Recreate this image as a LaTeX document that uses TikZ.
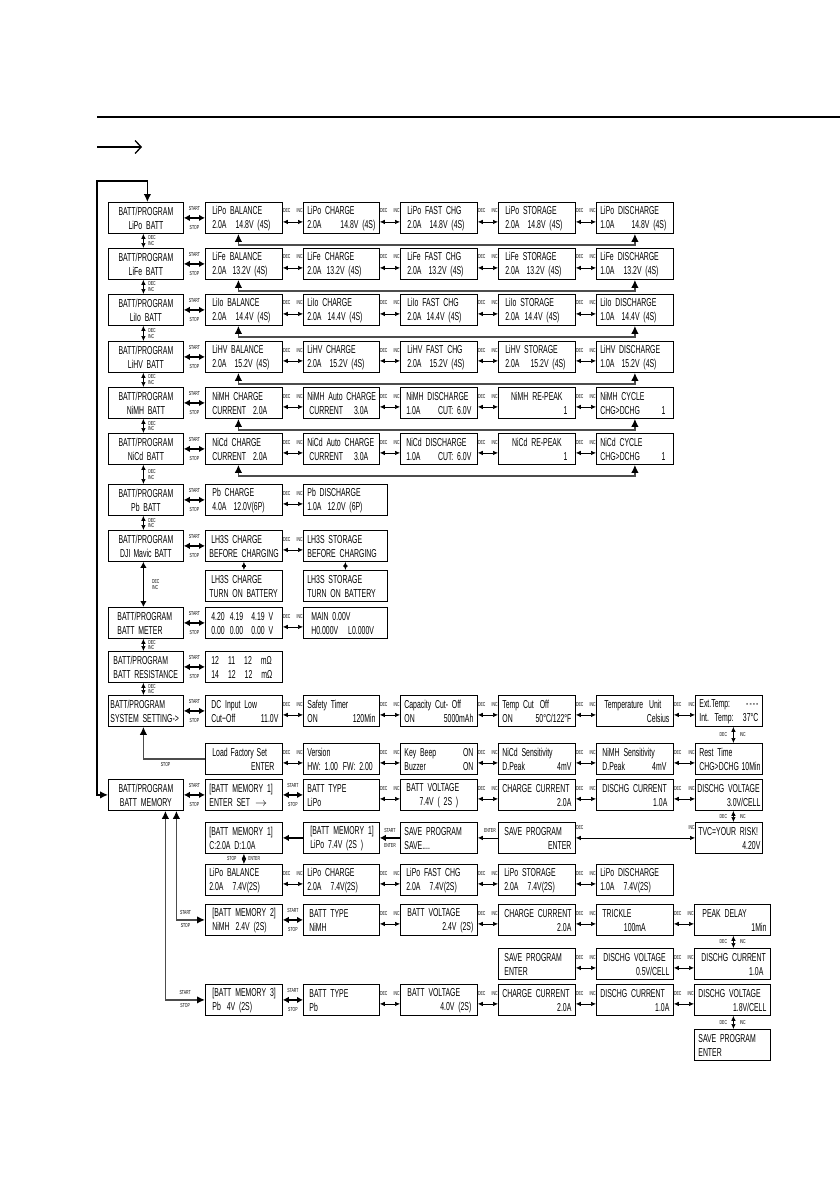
\documentclass[tikz,border=0pt]{standalone}
\usepackage{fontspec}
\setmainfont{Liberation Sans}[FakeStretch=0.6]
\usetikzlibrary{arrows.meta}

\newcommand\two[2]{\vbox{\baselineskip=14pt
  \hbox to\linewidth{\vrule height 10pt width 0pt #1\hfil}%
  \hbox to\linewidth{\vrule depth 1pt width 0pt #2\hfil}}}

\begin{document}
\begin{tikzpicture}[x=1pt, y=-1pt]
\tikzstyle{box} = [draw, line width=0.8pt, anchor=north west, inner xsep=4pt, inner ysep=0pt, minimum height=31pt, font=\fontsize{11.5}{14}\selectfont]
\tikzstyle{lcd} = [box, text width=69pt]
\tikzstyle{lcdm} = [box, text width=68pt]
\tikzstyle{wide} = [box, text width=76pt]
\tikzstyle{side} = [box, inner xsep=2pt, text width=71pt]
\tikzstyle{slim} = [box, inner xsep=2pt, text width=63pt]
\tikzstyle{tag} = [font=\fontsize{5.8}{6}\selectfont, inner sep=0pt]
\tikzstyle{dbl} = [line width=0.7pt, >={Latex[length=5pt,width=4.5pt]}, <->]
\tikzstyle{bold} = [line width=1.5pt, >={Latex[length=6pt,width=6.5pt]}, <->]
\tikzstyle{feed} = [line width=1.6pt, draw=black!70, >={Latex[length=8pt,width=7.5pt,color=black]}]
\tikzstyle{back} = [feed, <->]
\tikzstyle{decinc} = [dbl, edge node={node[tag, pos=0, anchor=south west, yshift=8.5pt] {DEC} node[tag, pos=1, anchor=south east, yshift=8.5pt] {INC}}]
\tikzstyle{startstop} = [bold, edge node={node[tag, above=6.5pt] {START} node[tag, below=6.5pt] {STOP}}]
\tikzstyle{vstack} = [dbl, edge node={node[tag, anchor=south west, xshift=4.5pt, yshift=0.5pt] {DEC} node[tag, anchor=north west, xshift=4.5pt, yshift=-0.5pt] {INC}}]
\tikzstyle{bigstack} = [bold, edge node={node[tag, anchor=south west, xshift=8pt, yshift=0.5pt] {DEC} node[tag, anchor=north west, xshift=8pt, yshift=-0.5pt] {INC}}]
\tikzstyle{vside} = [dbl, edge node={node[tag, anchor=east, xshift=-6pt] {DEC} node[tag, anchor=west, xshift=6pt] {INC}}]
\tikzstyle{stopenter} = [dbl, edge node={node[tag, anchor=east, xshift=-7pt] {STOP} node[tag, anchor=west, xshift=4pt] {ENTER}}]

\useasboundingbox (0,0) rectangle (840,1192);

\draw[line width=1.8pt] (97,117) -- (840,117);
\draw[line width=1.3pt, -{Straight Barb[length=6pt,width=13pt]}] (97,147) -- (142,147);

\node[side] (lipo) at (108,202) {\two{\hfil BATT/PROGRAM}{\hfil LiPo BATT}};
\node[lcd] (lipobal) at (205,202) {\two{\hspace{3pt}LiPo BALANCE}{\hspace{3pt}2.0A\hspace{9pt}14.8V (4S)}};
\node[lcdm] (lipochg) at (303,202) {\two{LiPo CHARGE}{2.0A\hfill 14.8V (4S)}};
\node[lcd] (lipofast) at (400,202) {\two{\hspace{3pt}LiPo FAST CHG}{\hspace{3pt}2.0A\hspace{8pt}14.8V (4S)}};
\node[lcd] (lipostor) at (498,202) {\two{\hspace{3pt}LiPo STORAGE}{\hspace{3pt}2.0A\hspace{8pt}14.8V (4S)}};
\node[lcd] (lipodis) at (596,202) {\two{LiPo DISCHARGE}{1.0A\hfill 14.8V (4S)\hspace{3pt}}};

\node[side] (life) at (108,248) {\two{\hfil BATT/PROGRAM}{\hfil LiFe BATT}};
\node[lcd] (lifebal) at (205,248) {\two{\hspace{3pt}LiFe\hspace{4pt}BALANCE}{\hspace{3pt}2.0A\hspace{6pt}13.2V (4S)}};
\node[lcdm] (lifechg) at (303,248) {\two{LiFe\hspace{4pt}CHARGE}{2.0A\hspace{5pt}13.2V (4S)}};
\node[lcd] (lifefast) at (400,248) {\two{\hspace{3pt}LiFe\hspace{4pt}FAST CHG}{\hspace{3pt}2.0A\hspace{7pt}13.2V (4S)}};
\node[lcd] (lifestor) at (498,248) {\two{\hspace{3pt}LiFe\hspace{4pt}STORAGE}{\hspace{3pt}2.0A\hspace{7pt}13.2V (4S)}};
\node[lcd] (lifedis) at (596,248) {\two{LiFe\hspace{4pt}DISCHARGE}{1.0A\hspace{9pt}13.2V (4S)}};

\node[side] (liio) at (108,294) {\two{\hfil BATT/PROGRAM}{\hfil LiIo BATT}};
\node[lcd] (liiobal) at (205,294) {\two{\hspace{3pt}LiIo BALANCE}{\hspace{3pt}2.0A\hspace{9pt}14.4V (4S)}};
\node[lcdm] (liiochg) at (303,294) {\two{LiIo CHARGE}{2.0A\hspace{6pt}14.4V (4S)}};
\node[lcd] (liiofast) at (400,294) {\two{\hspace{3pt}LiIo FAST CHG}{\hspace{3pt}2.0A\hspace{5pt}14.4V (4S)}};
\node[lcd] (liiostor) at (498,294) {\two{\hspace{3pt}LiIo STORAGE}{\hspace{3pt}2.0A\hspace{5pt}14.4V (4S)}};
\node[lcd] (liiodis) at (596,294) {\two{LiIo DISCHARGE}{1.0A\hspace{7pt}14.4V (4S)}};

\node[side] (lihv) at (108,341) {\two{\hfil BATT/PROGRAM}{\hfil LiHV BATT}};
\node[lcd] (lihvbal) at (205,341) {\two{\hspace{3pt}LiHV BALANCE}{\hspace{3pt}2.0A\hspace{8pt}15.2V (4S)}};
\node[lcdm] (lihvchg) at (303,341) {\two{LiHV CHARGE}{2.0A\hspace{8pt}15.2V (4S)}};
\node[lcd] (lihvfast) at (400,341) {\two{\hspace{3pt}LiHV FAST CHG}{\hspace{3pt}2.0A\hspace{8pt}15.2V (4S)}};
\node[lcd] (lihvstor) at (498,341) {\two{\hspace{3pt}LiHV STORAGE}{\hspace{3pt}2.0A\hspace{11pt}15.2V (4S)}};
\node[lcd] (lihvdis) at (596,341) {\two{LiHV DISCHARGE}{1.0A\hspace{7pt}15.2V (4S)}};

\node[side] (nimh) at (108,387) {\two{\hfil BATT/PROGRAM}{\hfil NiMH BATT}};
\node[lcd] (nimhchg) at (205,387) {\two{\hspace{3pt}NiMH CHARGE}{\hspace{3pt}CURRENT\hspace{7pt}2.0A}};
\node[lcdm] (nimhauto) at (303,387) {\two{NiMH Auto CHARGE}{\hspace{2pt}CURRENT\hspace{11pt}3.0A}};
\node[lcd] (nimhdis) at (400,387) {\two{\hspace{2pt}NiMH DISCHARGE}{\hspace{2pt}1.0A\hfill CUT: 6.0V\hspace{2pt}}};
\node[lcd] (nimhpeak) at (498,387) {\two{\hfil NiMH RE-PEAK}{\hfill 1\hspace{4pt}}};
\node[lcd] (nimhcyc) at (596,387) {\two{NiMH CYCLE}{CHG>DCHG\hfill 1\hspace{4pt}}};

\node[side] (nicd) at (108,433) {\two{\hfil BATT/PROGRAM}{\hfil NiCd BATT}};
\node[lcd] (nicdchg) at (205,433) {\two{\hspace{3pt}NiCd CHARGE}{\hspace{3pt}CURRENT\hspace{7pt}2.0A}};
\node[lcdm] (nicdauto) at (303,433) {\two{NiCd Auto CHARGE}{\hspace{2pt}CURRENT\hspace{11pt}3.0A}};
\node[lcd] (nicddis) at (400,433) {\two{\hspace{2pt}NiCd DISCHARGE}{\hspace{2pt}1.0A\hfill CUT: 6.0V\hspace{2pt}}};
\node[lcd] (nicdpeak) at (498,433) {\two{\hfil NiCd RE-PEAK}{\hfill 1\hspace{4pt}}};
\node[lcd] (nicdcyc) at (596,433) {\two{NiCd CYCLE}{CHG>DCHG\hfill 1\hspace{4pt}}};

\node[side] (pb) at (108,484) {\two{\hfil BATT/PROGRAM}{\hfil Pb BATT}};
\node[lcd] (pbchg) at (205,484) {\two{\hspace{3pt}Pb CHARGE}{\hspace{3pt}4.0A\hspace{7pt}12.0V(6P)}};
\node[wide] (pbdis) at (303,484) {\two{Pb DISCHARGE}{1.0A\hspace{6pt}12.0V (6P)}};

\node[side] (dji) at (108,530) {\two{\hfil BATT/PROGRAM}{\hfil DJI\hspace{3pt}Mavic\hspace{3pt}BATT}};
\node[lcd] (lhchg) at (205,530) {\two{\hspace{2pt}LH3S CHARGE}{BEFORE CHARGING}};
\node[wide] (lhstor) at (303,530) {\two{LH3S STORAGE}{BEFORE CHARGING}};
\node[lcd] (lhchgon) at (205,570) {\two{\hspace{2pt}LH3S CHARGE}{TURN ON BATTERY}};
\node[wide] (lhstoron) at (303,570) {\two{LH3S STORAGE}{TURN ON BATTERY}};

\node[side] (meter) at (108,607) {\two{\hspace{7pt}BATT/PROGRAM}{\hspace{7pt}BATT METER}};
\node[lcd] (cells) at (205,607) {\two{\hspace{2pt}4.20\hspace{5pt}4.19\hspace{8pt}4.19 V}{\hspace{2pt}0.00\hspace{5pt}0.00\hspace{8pt}0.00 V}};
\node[wide] (mainv) at (303,607) {\two{\hspace{4pt}MAIN 0.00V}{\hspace{4pt}H0.000V\hspace{10pt}L0.000V}};

\node[side] (resist) at (108,651) {\two{\hspace{3pt}BATT/PROGRAM}{\hspace{3pt}BATT RESISTANCE}};
\node[lcd] (ohms) at (205,651) {\two{\hspace{2pt}12\hspace{9pt}11\hspace{9pt}12\hspace{9pt}mΩ}{\hspace{2pt}14\hspace{9pt}12\hspace{9pt}12\hspace{9pt}mΩ}};

\node[side] (sys) at (108,695) {\two{BATT/PROGRAM}{SYSTEM SETTING->}};
\node[lcd] (dcin) at (205,695) {\two{\hspace{2pt}DC Input Low}{\hspace{2pt}Cut−Off\hfill 11.0V}};
\node[lcdm] (timer) at (303,695) {\two{Safety Timer}{ON\hfill 120Min}};
\node[lcd] (capcut) at (400,695) {\two{Capacity Cut- Off}{ON\hfill 5000mAh}};
\node[lcd] (tempcut) at (498,695) {\two{Temp Cut\hspace{6pt}Off}{ON\hfill 50°C/122°F}};
\node[lcd] (tempunit) at (596,695) {\two{\hspace{4pt}Temperature\hspace{6pt}Unit}{\hfill Celsius}};
\node[slim] (exttemp) at (695,695) {\two{\hspace{2pt}Ext.Temp:\hfill -\kern1pt-\kern1pt-\kern1pt-\hspace{2pt}}{\hspace{2pt}Int. Temp:\hfill 37°C\hspace{2pt}}};

\node[lcd] (factory) at (205,743) {\two{\hspace{3pt}Load\hspace{3pt}Factory\hspace{3pt}Set}{\hfill ENTER\hspace{4pt}}};
\node[lcdm] (version) at (303,743) {\two{Version}{HW: 1.00\hspace{5pt}FW: 2.00}};
\node[lcd] (keybeep) at (400,743) {\two{Key Beep\hfill ON}{Buzzer\hfill ON}};
\node[lcd] (nicdsens) at (498,743) {\two{NiCd Sensitivity}{D.Peak\hfill 4mV}};
\node[lcd] (nimhsens) at (596,743) {\two{\hspace{2pt}NiMH\hspace{4pt}Sensitivity}{\hspace{2pt}D.Peak\hfill 4mV\hspace{3pt}}};
\node[slim] (rest) at (695,743) {\two{\hspace{2pt}Rest Time}{\hspace{2pt}CHG>DCHG\hfill 10Min}};

\node[side] (mem) at (108,779) {\two{\hfil BATT/PROGRAM}{\hfil BATT MEMORY}};
\node[lcd] (memone) at (205,779) {\two{[BATT MEMORY 1]}{ENTER SET\hspace{5pt}$\rightarrow$}};
\node[lcdm] (memtype) at (303,779) {\two{BATT TYPE}{LiPo}};
\node[lcd] (memvolt) at (400,779) {\two{\hspace{2pt}BATT\hspace{4pt}VOLTAGE}{\hfil 7.4V ( 2S )}};
\node[lcd] (memchg) at (498,779) {\two{CHARGE CURRENT}{\hfill 2.0A}};
\node[lcd] (memdis) at (596,779) {\two{\hspace{2pt}DISCHG CURRENT}{\hfill 1.0A\hspace{2pt}}};
\node[slim] (memdv) at (695,779) {\two{DISCHG VOLTAGE}{\hfill 3.0V/CELL}};

\node[lcd] (memshow) at (205,822) {\two{[BATT MEMORY 1]}{C:2.0A\hspace{4pt}D:1.0A}};
\node[lcdm] (memsaved) at (303,822) {\two{\hspace{3pt}[BATT MEMORY 1]}{\hspace{3pt}LiPo\hspace{4pt}7.4V (2S )}};
\node[lcd] (saving) at (400,822) {\two{SAVE PROGRAM}{SAVE....}};
\node[lcd] (saveask) at (498,822) {\two{\hspace{2pt}SAVE PROGRAM}{\hfill ENTER}};
\node[slim] (tvc) at (695,822) {\two{\hspace{1pt}TVC=YOUR RISK!}{\hfill 4.20V}};

\node[lcd] (twobal) at (205,864) {\two{LiPo BALANCE}{2.0A\hspace{9pt}7.4V(2S)}};
\node[lcdm] (twochg) at (303,864) {\two{LiPo CHARGE}{2.0A\hspace{9pt}7.4V(2S)}};
\node[lcd] (twofast) at (400,864) {\two{\hspace{2pt}LiPo FAST CHG}{\hspace{2pt}2.0A\hspace{9pt}7.4V(2S)}};
\node[lcd] (twostor) at (498,864) {\two{\hspace{2pt}LiPo STORAGE}{\hspace{2pt}2.0A\hspace{9pt}7.4V(2S)}};
\node[lcd] (twodis) at (596,864) {\two{LiPo DISCHARGE}{1.0A\hspace{9pt}7.4V(2S)}};

\node[lcd] (memtwo) at (205,904) {\two{\hspace{3pt}[BATT MEMORY 2]}{\hspace{3pt}NiMH\hspace{6pt}2.4V (2S)}};
\node[lcdm] (mtwotype) at (303,904) {\two{\hspace{2pt}BATT TYPE}{\hspace{2pt}NiMH}};
\node[lcd] (mtwovolt) at (400,904) {\two{\hspace{3pt}BATT\hspace{4pt}VOLTAGE}{\hfill 2.4V (2S)}};
\node[lcd] (mtwochg) at (498,904) {\two{\hspace{2pt}CHARGE CURRENT}{\hfill 2.0A}};
\node[lcd] (trickle) at (596,904) {\two{\hspace{2pt}TRICKLE}{\hfil 100mA}};
\node[lcdm] (peak) at (694,904) {\two{\hspace{4pt}PEAK DELAY}{\hfill 1Min}};

\node[lcd] (mtwosave) at (498,948) {\two{\hspace{2pt}SAVE PROGRAM}{\hspace{2pt}ENTER}};
\node[lcd] (mtwodv) at (596,948) {\two{\hspace{3pt}DISCHG VOLTAGE}{\hfill 0.5V/CELL}};
\node[lcdm] (mtwodis) at (694,948) {\two{\hspace{3pt}DISCHG CURRENT}{\hfill 1.0A\hspace{3pt}}};

\node[lcd] (memthree) at (205,984) {\two{\hspace{3pt}[BATT MEMORY 3]}{\hspace{3pt}Pb\hspace{6pt}4V (2S)}};
\node[lcdm] (mthreetype) at (303,984) {\two{\hspace{2pt}BATT TYPE}{\hspace{2pt}Pb}};
\node[lcd] (mthreevolt) at (400,984) {\two{\hspace{3pt}BATT\hspace{4pt}VOLTAGE}{\hfill 4.0V (2S)\hspace{2pt}}};
\node[lcd] (mthreechg) at (498,984) {\two{CHARGE CURRENT}{\hfill 2.0A}};
\node[lcd] (mthreedis) at (596,984) {\two{DISCHG CURRENT}{\hfill 1.0A}};
\node[lcdm] (mthreedv) at (694,984) {\two{DISCHG VOLTAGE}{\hfill 1.8V/CELL}};
\node[lcdm] (mthreesave) at (694,1029) {\two{SAVE PROGRAM}{ENTER}};

\coordinate (corner) at (97,181);
\draw[feed, draw=black, line width=1.3pt, <->] (mem.west) -| (corner) -| ([xshift=1.5pt]lipo.north);

\draw (lipo.east) edge[startstop] (lipobal.west);
\draw ([yshift=-4pt]lipobal.east) edge[decinc] ([yshift=-4pt]lipochg.west);
\draw ([yshift=-4pt]lipochg.east) edge[decinc] ([yshift=-4pt]lipofast.west);
\draw ([yshift=-4pt]lipofast.east) edge[decinc] ([yshift=-4pt]lipostor.west);
\draw ([yshift=-4pt]lipostor.east) edge[decinc] ([yshift=-4pt]lipodis.west);
\draw[back] ([xshift=-5.5pt]lipobal.south) -- ++(0,11) -| (lipodis.south);

\draw (life.east) edge[startstop] (lifebal.west);
\draw ([yshift=-4pt]lifebal.east) edge[decinc] ([yshift=-4pt]lifechg.west);
\draw ([yshift=-4pt]lifechg.east) edge[decinc] ([yshift=-4pt]lifefast.west);
\draw ([yshift=-4pt]lifefast.east) edge[decinc] ([yshift=-4pt]lifestor.west);
\draw ([yshift=-4pt]lifestor.east) edge[decinc] ([yshift=-4pt]lifedis.west);
\draw[back] ([xshift=-5.5pt]lifebal.south) -- ++(0,11) -| (lifedis.south);

\draw (liio.east) edge[startstop] (liiobal.west);
\draw ([yshift=-4pt]liiobal.east) edge[decinc] ([yshift=-4pt]liiochg.west);
\draw ([yshift=-4pt]liiochg.east) edge[decinc] ([yshift=-4pt]liiofast.west);
\draw ([yshift=-4pt]liiofast.east) edge[decinc] ([yshift=-4pt]liiostor.west);
\draw ([yshift=-4pt]liiostor.east) edge[decinc] ([yshift=-4pt]liiodis.west);
\draw[back] ([xshift=-5.5pt]liiobal.south) -- ++(0,11) -| (liiodis.south);

\draw (lihv.east) edge[startstop] (lihvbal.west);
\draw ([yshift=-4pt]lihvbal.east) edge[decinc] ([yshift=-4pt]lihvchg.west);
\draw ([yshift=-4pt]lihvchg.east) edge[decinc] ([yshift=-4pt]lihvfast.west);
\draw ([yshift=-4pt]lihvfast.east) edge[decinc] ([yshift=-4pt]lihvstor.west);
\draw ([yshift=-4pt]lihvstor.east) edge[decinc] ([yshift=-4pt]lihvdis.west);
\draw[back] ([xshift=-5.5pt]lihvbal.south) -- ++(0,11) -| (lihvdis.south);

\draw (nimh.east) edge[startstop] (nimhchg.west);
\draw ([yshift=-4pt]nimhchg.east) edge[decinc] ([yshift=-4pt]nimhauto.west);
\draw ([yshift=-4pt]nimhauto.east) edge[decinc] ([yshift=-4pt]nimhdis.west);
\draw ([yshift=-4pt]nimhdis.east) edge[decinc] ([yshift=-4pt]nimhpeak.west);
\draw ([yshift=-4pt]nimhpeak.east) edge[decinc] ([yshift=-4pt]nimhcyc.west);
\draw[back] ([xshift=-5.5pt]nimhchg.south) -- ++(0,11) -| (nimhcyc.south);

\draw (nicd.east) edge[startstop] (nicdchg.west);
\draw ([yshift=-4pt]nicdchg.east) edge[decinc] ([yshift=-4pt]nicdauto.west);
\draw ([yshift=-4pt]nicdauto.east) edge[decinc] ([yshift=-4pt]nicddis.west);
\draw ([yshift=-4pt]nicddis.east) edge[decinc] ([yshift=-4pt]nicdpeak.west);
\draw ([yshift=-4pt]nicdpeak.east) edge[decinc] ([yshift=-4pt]nicdcyc.west);
\draw[back] ([xshift=-5.5pt]nicdchg.south) -- ++(0,11) -| (nicdcyc.south);

\draw (pb.east) edge[startstop] (pbchg.west);
\draw ([yshift=-4pt]pbchg.east) edge[decinc] ([yshift=-4pt]pbdis.west);

\draw (dji.east) edge[startstop] (lhchg.west);
\draw ([yshift=-4pt]lhchg.east) edge[decinc] ([yshift=-4pt]lhstor.west);
\draw (lhchg.south) edge[dbl] (lhchgon.north);
\draw (lhstor.south) edge[dbl] (lhstoron.north);

\draw (meter.east) edge[startstop] (cells.west);
\draw ([yshift=-4pt]cells.east) edge[decinc] ([yshift=-4pt]mainv.west);

\draw (resist.east) edge[startstop] (ohms.west);

\draw ([xshift=-2.5pt]lipo.south) edge[vstack] ([xshift=-2.5pt]life.north);
\draw ([xshift=-2.5pt]life.south) edge[vstack] ([xshift=-2.5pt]liio.north);
\draw ([xshift=-2.5pt]liio.south) edge[vstack] ([xshift=-2.5pt]lihv.north);
\draw ([xshift=-2.5pt]lihv.south) edge[vstack] ([xshift=-2.5pt]nimh.north);
\draw ([xshift=-2.5pt]nimh.south) edge[vstack] ([xshift=-2.5pt]nicd.north);
\draw ([xshift=-2.5pt]nicd.south) edge[vstack] ([xshift=-2.5pt]pb.north);
\draw ([xshift=-2.5pt]pb.south) edge[vstack] ([xshift=-2.5pt]dji.north);
\draw ([xshift=-2.5pt]dji.south) edge[bigstack] ([xshift=-2.5pt]meter.north);
\draw ([xshift=-2.5pt]meter.south) edge[vstack] ([xshift=-2.5pt]resist.north);
\draw ([xshift=-2.5pt]resist.south) edge[vstack] ([xshift=-2.5pt]sys.north);

\draw (sys.east) edge[startstop] (dcin.west);
\draw ([yshift=-4pt]dcin.east) edge[decinc] ([yshift=-4pt]timer.west);
\draw ([yshift=-4pt]timer.east) edge[decinc] ([yshift=-4pt]capcut.west);
\draw ([yshift=-4pt]capcut.east) edge[decinc] ([yshift=-4pt]tempcut.west);
\draw ([yshift=-4pt]tempcut.east) edge[decinc] ([yshift=-4pt]tempunit.west);
\draw ([yshift=-4pt]tempunit.east) edge[decinc] ([yshift=-4pt]exttemp.west);
\draw ([xshift=4.5pt]exttemp.south) edge[vside] ([xshift=4.5pt]rest.north);
\draw ([yshift=-4pt]factory.east) edge[decinc] ([yshift=-4pt]version.west);
\draw ([yshift=-4pt]version.east) edge[decinc] ([yshift=-4pt]keybeep.west);
\draw ([yshift=-4pt]keybeep.east) edge[decinc] ([yshift=-4pt]nicdsens.west);
\draw ([yshift=-4pt]nicdsens.east) edge[decinc] ([yshift=-4pt]nimhsens.west);
\draw ([yshift=-4pt]nimhsens.east) edge[decinc] ([yshift=-4pt]rest.west);
\draw[feed, ->] (factory.west) -| node[tag, pos=0.32, below=3pt] {STOP} ([xshift=-2.5pt]sys.south);

\draw (mem.east) edge[startstop] (memone.west);
\draw (memone.east) edge[startstop] (memtype.west);
\draw ([yshift=-4pt]memtype.east) edge[decinc] ([yshift=-4pt]memvolt.west);
\draw ([yshift=-4pt]memvolt.east) edge[decinc] ([yshift=-4pt]memchg.west);
\draw ([yshift=-4pt]memchg.east) edge[decinc] ([yshift=-4pt]memdis.west);
\draw ([yshift=-4pt]memdis.east) edge[decinc] ([yshift=-4pt]memdv.west);
\draw ([xshift=4.5pt]memdv.south) edge[vside] ([xshift=4.5pt]tvc.north);
\draw (saveask.east) edge[decinc] (tvc.west);
\draw[dbl, ->] (saveask.west) -- node[tag, pos=0.4, above=5pt] {ENTER} (saving.east);
\draw[bold, ->] (saving.west) -- node[tag, above=5pt] {START} node[tag, below=5pt] {ENTER} (memsaved.east);
\draw[bold, ->] (memsaved.west) -- (memshow.east);
\draw (memshow.south) edge[stopenter] (twobal.north);
\draw ([yshift=-4pt]twobal.east) edge[decinc] ([yshift=-4pt]twochg.west);
\draw ([yshift=-4pt]twochg.east) edge[decinc] ([yshift=-4pt]twofast.west);
\draw ([yshift=-4pt]twofast.east) edge[decinc] ([yshift=-4pt]twostor.west);
\draw ([yshift=-4pt]twostor.east) edge[decinc] ([yshift=-4pt]twodis.west);

\draw[feed, <->] (memtwo.west) -| node[tag, pos=0.34, above=5pt] {START} node[tag, pos=0.34, below=3pt] {STOP} ([xshift=30.5pt]mem.south);
\draw (memtwo.east) edge[startstop] (mtwotype.west);
\draw ([yshift=-4pt]mtwotype.east) edge[decinc] ([yshift=-4pt]mtwovolt.west);
\draw ([yshift=-4pt]mtwovolt.east) edge[decinc] ([yshift=-4pt]mtwochg.west);
\draw ([yshift=-4pt]mtwochg.east) edge[decinc] ([yshift=-4pt]trickle.west);
\draw ([yshift=-4pt]trickle.east) edge[decinc] ([yshift=-4pt]peak.west);
\draw ([xshift=1pt]peak.south) edge[vside] ([xshift=1pt]mtwodis.north);
\draw ([yshift=-4pt]mtwodv.east) edge[decinc] ([yshift=-4pt]mtwodis.west);
\draw ([yshift=-4pt]mtwosave.east) edge[decinc] ([yshift=-4pt]mtwodv.west);

\draw[feed, <->] (memthree.west) -| node[tag, pos=0.25, above=5pt] {START} node[tag, pos=0.25, below=3pt] {STOP} ([xshift=19.5pt]mem.south);
\draw (memthree.east) edge[startstop] (mthreetype.west);
\draw ([yshift=-4pt]mthreetype.east) edge[decinc] ([yshift=-4pt]mthreevolt.west);
\draw ([yshift=-4pt]mthreevolt.east) edge[decinc] ([yshift=-4pt]mthreechg.west);
\draw ([yshift=-4pt]mthreechg.east) edge[decinc] ([yshift=-4pt]mthreedis.west);
\draw ([yshift=-4pt]mthreedis.east) edge[decinc] ([yshift=-4pt]mthreedv.west);
\draw ([xshift=1pt]mthreedv.south) edge[vside] ([xshift=1pt]mthreesave.north);
\end{tikzpicture}
\end{document}
